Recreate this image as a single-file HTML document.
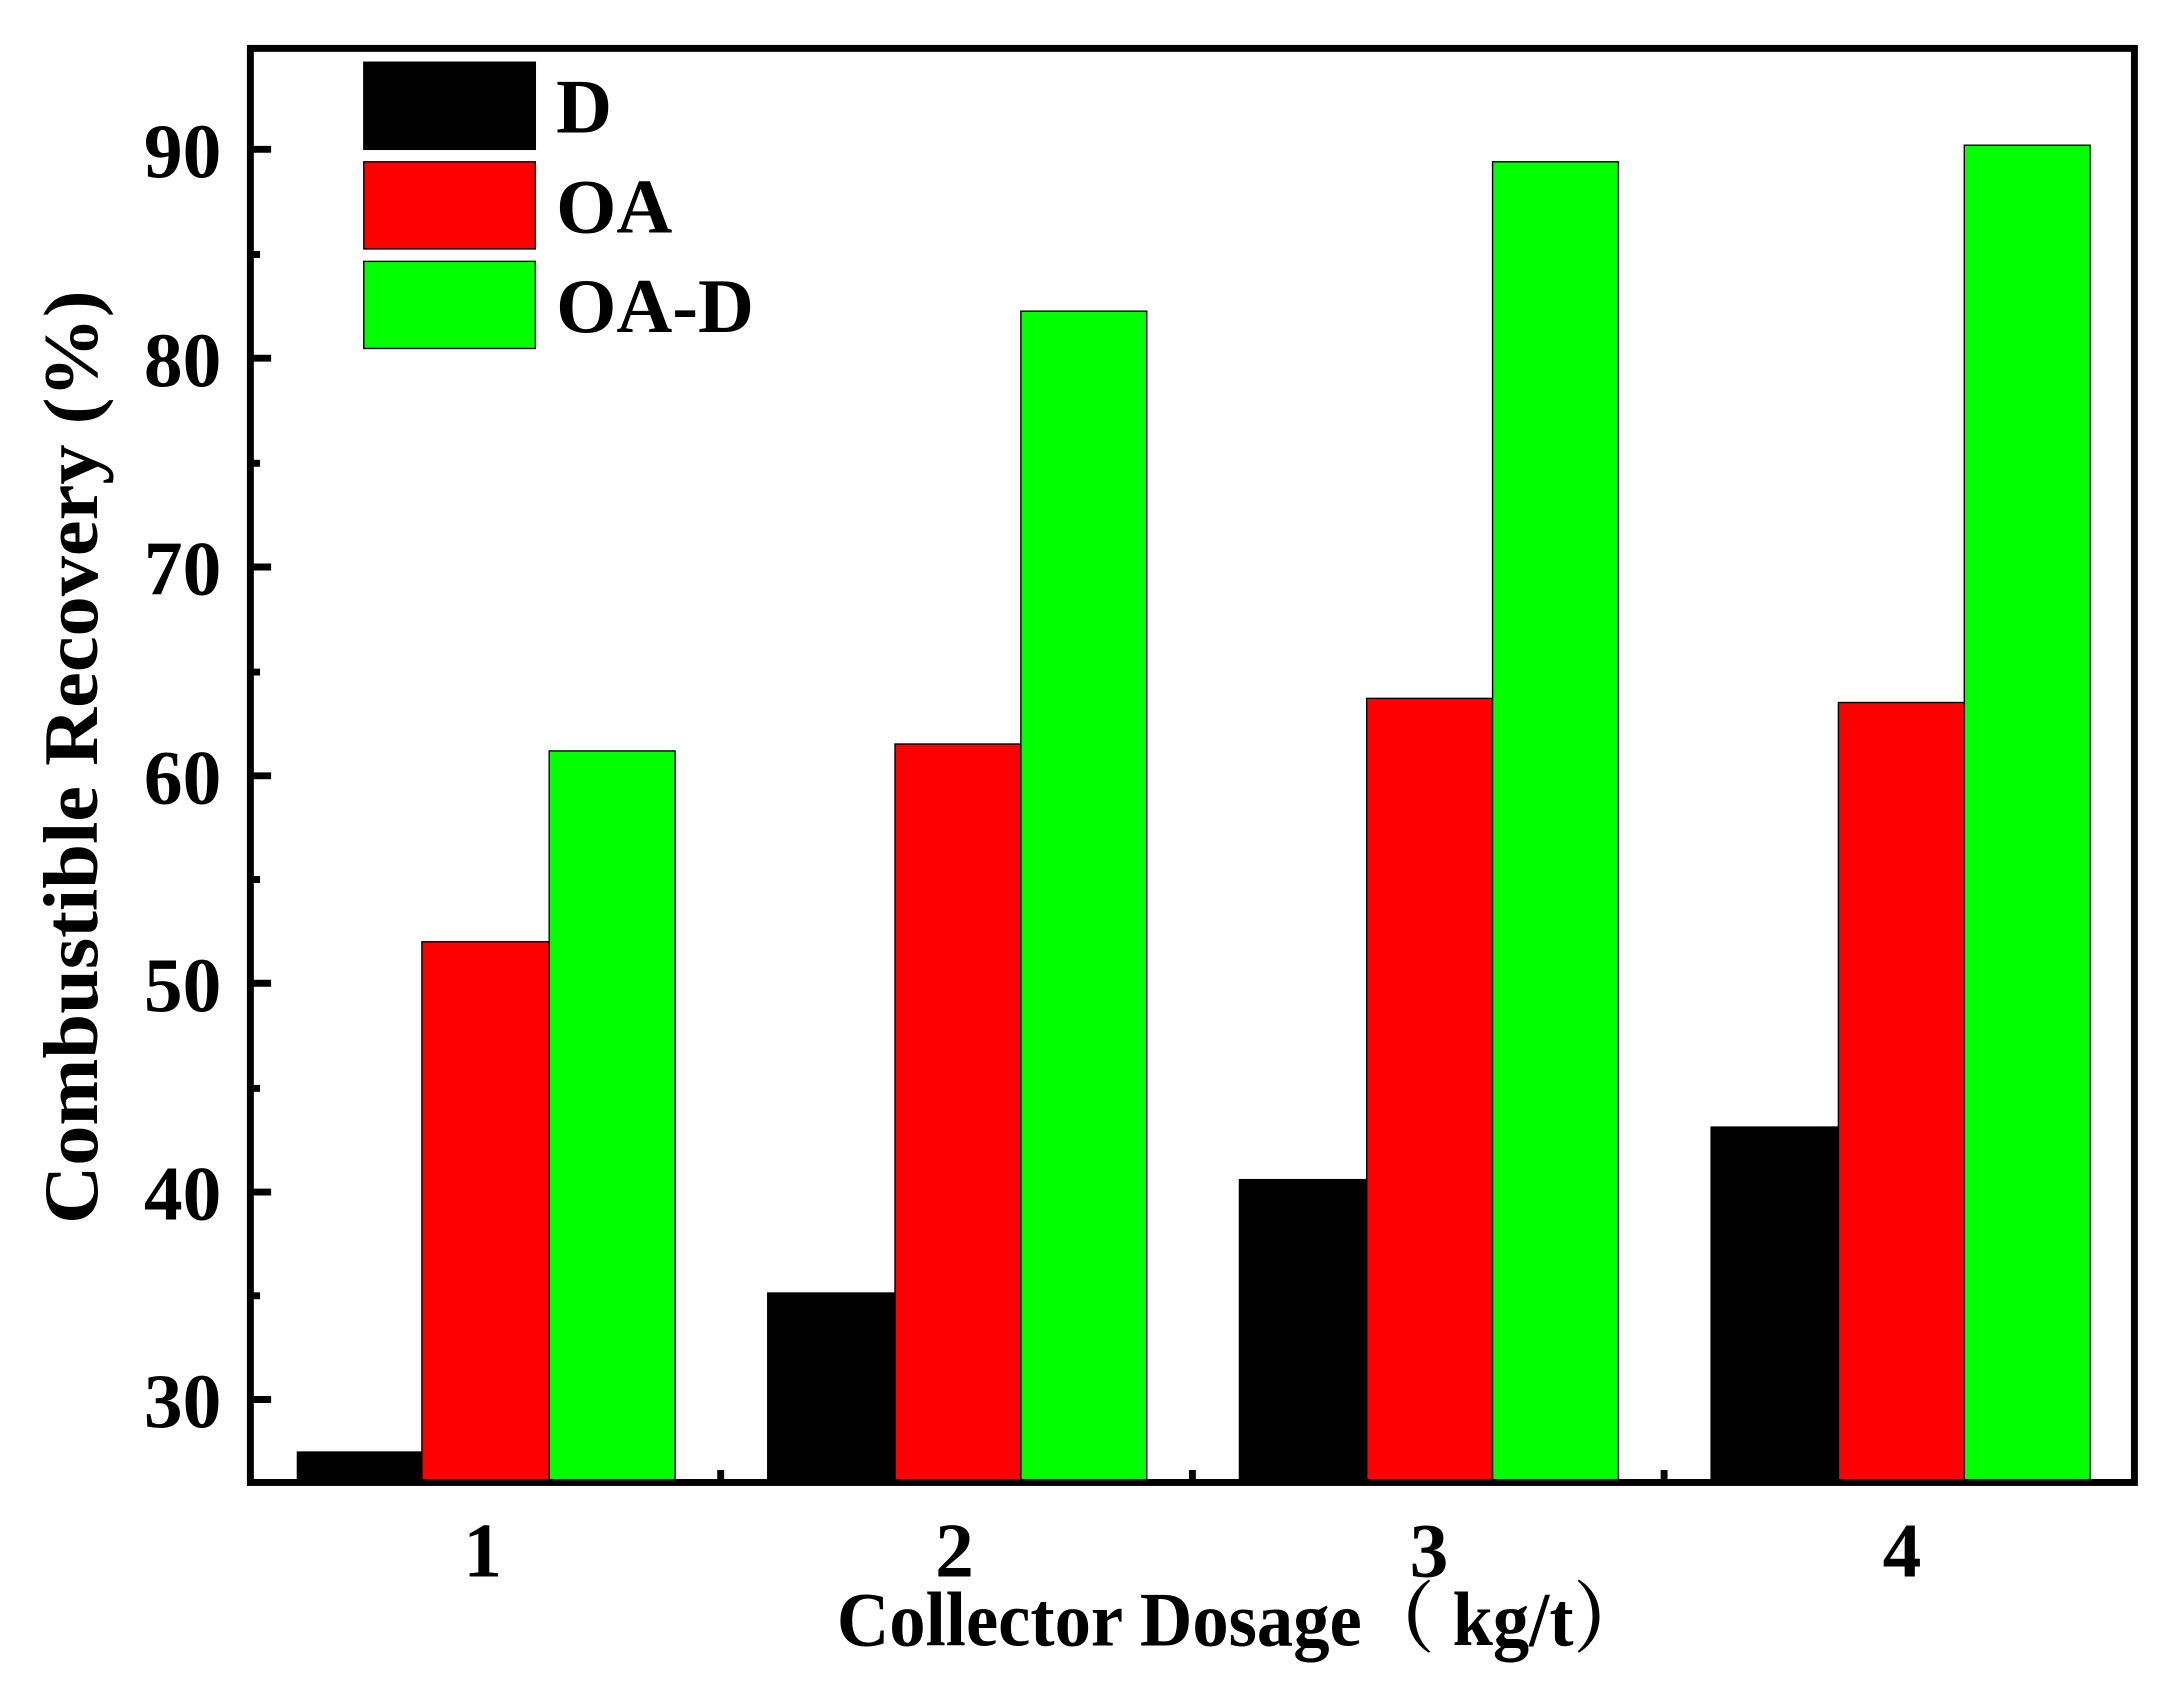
<!DOCTYPE html>
<html><head><meta charset="utf-8"><style>html,body{margin:0;padding:0;background:#fff}svg{display:block}</style></head>
<body>
<svg width="2169" height="1683" viewBox="0 0 1568 1217" preserveAspectRatio="none" xmlns="http://www.w3.org/2000/svg" font-family="Liberation Serif, serif" font-weight="bold">
<rect width="1568" height="1217" fill="#fff"/>
<g stroke="#000" stroke-width="1">
<rect x="215" y="1050" width="90" height="22" fill="#000"/>
<rect x="305" y="681" width="92" height="391" fill="#f00"/>
<rect x="397" y="543" width="91" height="529" fill="#0f0"/>
<rect x="555" y="935" width="92" height="137" fill="#000"/>
<rect x="647" y="538" width="91" height="534" fill="#f00"/>
<rect x="738" y="225" width="91" height="847" fill="#0f0"/>
<rect x="896" y="853" width="92" height="219" fill="#000"/>
<rect x="988" y="505" width="91" height="567" fill="#f00"/>
<rect x="1079" y="117" width="91" height="955" fill="#0f0"/>
<rect x="1237" y="815" width="92" height="257" fill="#000"/>
<rect x="1329" y="508" width="91" height="564" fill="#f00"/>
<rect x="1420" y="105" width="91" height="967" fill="#0f0"/>
</g>
<rect x="181" y="35" width="1362" height="1037" fill="none" stroke="#000" stroke-width="5"/>
<g stroke="#000" stroke-width="5">
<line x1="181" y1="108" x2="196" y2="108"/><line x1="181" y1="259" x2="196" y2="259"/>
<line x1="181" y1="410" x2="196" y2="410"/><line x1="181" y1="561" x2="196" y2="561"/>
<line x1="181" y1="711" x2="196" y2="711"/><line x1="181" y1="862" x2="196" y2="862"/>
<line x1="181" y1="1012" x2="196" y2="1012"/>
<line x1="181" y1="184" x2="188" y2="184"/><line x1="181" y1="335" x2="188" y2="335"/>
<line x1="181" y1="486" x2="188" y2="486"/><line x1="181" y1="636" x2="188" y2="636"/>
<line x1="181" y1="787" x2="188" y2="787"/><line x1="181" y1="937" x2="188" y2="937"/>
<line x1="521" y1="1072" x2="521" y2="1063"/><line x1="862" y1="1072" x2="862" y2="1063"/>
<line x1="1203" y1="1072" x2="1203" y2="1063"/>
</g>
<g font-size="56" text-anchor="end">
<text x="160" y="128">90</text><text x="160" y="279">80</text><text x="160" y="430">70</text>
<text x="160" y="581">60</text><text x="160" y="731">50</text><text x="160" y="882">40</text>
<text x="160" y="1032">30</text>
</g>
<g font-size="56" text-anchor="middle">
<text x="349" y="1140">1</text><text x="690" y="1140">2</text><text x="1033" y="1140">3</text><text x="1375" y="1140">4</text>
</g>
<text x="605" y="1190" font-size="56" textLength="585" lengthAdjust="spacingAndGlyphs" font-family="Liberation Serif, Noto Serif CJK SC, serif">Collector Dosage（ kg/t）</text>
<text transform="translate(70,885) rotate(-90)" font-size="56" textLength="675" lengthAdjust="spacingAndGlyphs">Combustible Recovery (%)</text>
<g stroke="#000" stroke-width="1">
<rect x="263" y="45" width="124" height="63" fill="#000"/>
<rect x="263" y="117" width="124" height="63" fill="#f00"/>
<rect x="263" y="189" width="124" height="63" fill="#0f0"/>
</g>
<g font-size="56">
<text x="402" y="96">D</text><text x="402" y="168">OA</text><text x="402" y="240">OA-D</text>
</g>
</svg>
</body></html>
